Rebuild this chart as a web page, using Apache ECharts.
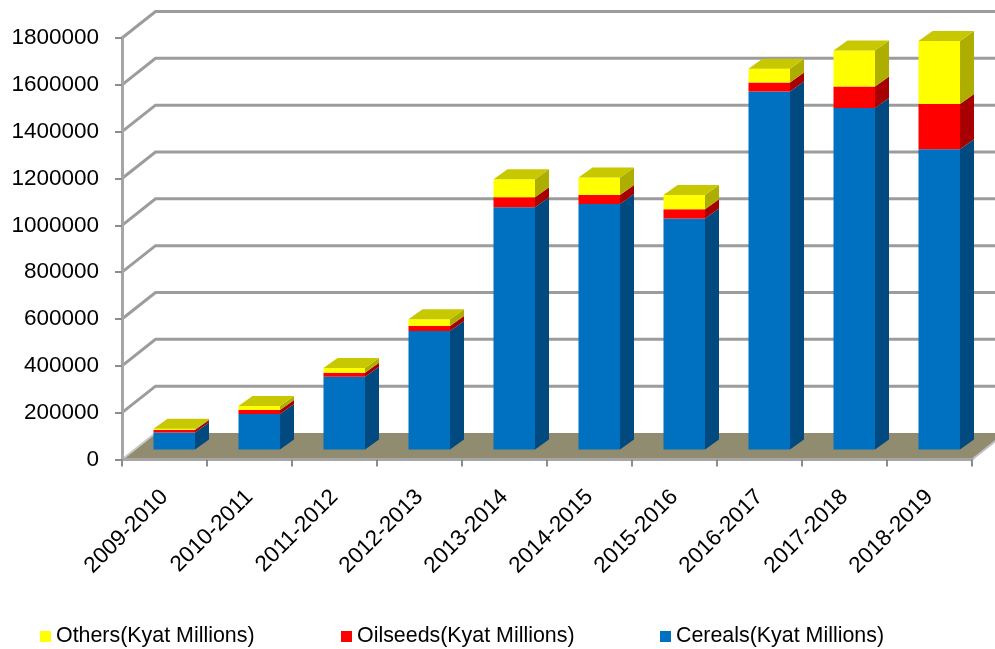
<!DOCTYPE html>
<html><head><meta charset="utf-8">
<style>html,body{margin:0;padding:0;background:#fff}#c{width:995px;height:649px}</style>
<script src="https://cdn.jsdelivr.net/npm/echarts@6/dist/echarts.min.js"></script>
</head><body><div id="c"></div>
<script>
var categories = ['2009-2010','2010-2011','2011-2012','2012-2013','2013-2014','2014-2015','2015-2016','2016-2017','2017-2018','2018-2019'];
var cereals = [73000,152000,311000,506000,1034000,1048000,987000,1529000,1458000,1282000];
var oilseeds = [10000,17000,17000,21000,43000,39000,39000,38000,92000,193000];
var others = [6000,17000,20000,29000,77000,75000,61000,59000,154000,269000];
var yTicks = [0,200000,400000,600000,800000,1000000,1200000,1400000,1600000,1800000];

var FONT = '"Liberation Sans", Arial, sans-serif';
var wallDx = 33.5, wallDy = -26.5;   // depth of the chart box
var barDx = 14, barDy = -10;         // depth of a bar
var barShiftX = -11, barShiftY = -10, barW = 41.5;

function boxSeries() {
  return {
    type: 'custom', coordinateSystem: 'cartesian2d', silent: true, z: 1, clip: false,
    data: yTicks.map(function (t) { return [0, t]; }),
    encode: { x: 0, y: 1 },
    renderItem: function (params, api) {
      var band = api.size([1, 0])[0];
      var p = api.coord([0, api.value(1)]);
      var xL = p[0] - band / 2, xR = xL + band * categories.length, y = p[1];
      var children = [];
      if (api.value(1) === 0) {
        children.push({ type: 'polygon', shape: { points: [[xL, y], [xL + wallDx, y + wallDy], [xR + wallDx, y + wallDy], [xR, y]] }, style: { fill: '#918B6F' } });
        children.push({ type: 'line', shape: { x1: xL, y1: y, x2: xL + wallDx, y2: y + wallDy }, style: { stroke: '#C8C8C8', lineWidth: 2 } });
        children.push({ type: 'line', shape: { x1: xR, y1: y, x2: xR + wallDx, y2: y + wallDy }, style: { stroke: '#BDBDBD', lineWidth: 2 } });
      } else {
        children.push({ type: 'polyline', shape: { points: [[xL, y], [xL + wallDx, y + wallDy], [xR + wallDx, y + wallDy]] }, style: { fill: 'none', stroke: '#9C9C9C', lineWidth: 3 } });
      }
      return { type: 'group', children: children };
    }
  };
}

function barSeries(name, values, bases, front, side, top, hasTop) {
  return {
    name: name, type: 'custom', coordinateSystem: 'cartesian2d', z: 3, clip: false,
    itemStyle: { color: front },
    data: values.map(function (v, i) { return [i, bases[i], bases[i] + v]; }),
    encode: { x: 0, y: 2 },
    renderItem: function (params, api) {
      var c0 = api.coord([api.value(0), api.value(1)]);
      var c1 = api.coord([api.value(0), api.value(2)]);
      var x = c0[0] + barShiftX, y0 = c0[1] + barShiftY, y1 = c1[1] + barShiftY;
      var ch = [
        { type: 'polygon', shape: { points: [[x + barW, y0], [x + barW + barDx, y0 + barDy], [x + barW + barDx, y1 + barDy], [x + barW, y1]] }, style: { fill: side } },
        { type: 'rect', shape: { x: x, y: y1, width: barW, height: y0 - y1 }, style: { fill: front } }
      ];
      if (hasTop) {
        ch.push({ type: 'polygon', shape: { points: [[x, y1], [x + barDx, y1 + barDy], [x + barW + barDx, y1 + barDy], [x + barW, y1]] }, style: { fill: top } });
      }
      return { type: 'group', children: ch };
    }
  };
}

var zeros = categories.map(function () { return 0; });
var base2 = cereals.slice();
var base3 = cereals.map(function (v, i) { return v + oilseeds[i]; });

function legendAt(left, name) {
  return { left: left, top: 626, data: [name], icon: 'rect', itemWidth: 11, itemHeight: 11, itemGap: 5, padding: 0,
    selectedMode: false, textStyle: { fontFamily: FONT, fontSize: 21.4, color: '#000' } };
}

var chart = echarts.init(document.getElementById('c'), null, { renderer: 'canvas' });
chart.setOption({
  animation: false,
  backgroundColor: '#fff',
  grid: { left: 122, right: 23, top: 38, bottom: 189.5, containLabel: false },
  legend: [legendAt(40, 'Others(Kyat Millions)'), legendAt(341, 'Oilseeds(Kyat Millions)'), legendAt(660, 'Cereals(Kyat Millions)')],
  xAxis: {
    type: 'category', data: categories, boundaryGap: true,
    axisLine: { show: true, lineStyle: { color: '#A6A6A6', width: 3 } },
    axisTick: { show: true, alignWithLabel: false, length: 7, lineStyle: { color: '#8C8C8C', width: 2 } },
    axisLabel: { rotate: 45, interval: 0, margin: 34, fontFamily: FONT, fontSize: 22.5, color: '#000' },
    z: 2
  },
  yAxis: {
    type: 'value', min: 0, max: 1800000, interval: 200000,
    splitLine: { show: false },
    axisLine: { show: true, lineStyle: { color: '#A6A6A6', width: 3 } },
    axisTick: { show: true, length: 7, lineStyle: { color: '#8C8C8C', width: 2 } },
    axisLabel: { margin: 23, fontFamily: FONT, fontSize: 22.5, color: '#000', formatter: function (v) { return String(v); } },
    z: 2
  },
  series: [
    boxSeries(),
    barSeries('Cereals(Kyat Millions)', cereals, zeros, '#0070C0', '#004A80', '#004A80', false),
    barSeries('Oilseeds(Kyat Millions)', oilseeds, base2, '#FF0000', '#A80000', '#A80000', false),
    barSeries('Others(Kyat Millions)', others, base3, '#FFFF00', '#AEAE00', '#C8C800', true)
  ]
});
</script></body></html>
